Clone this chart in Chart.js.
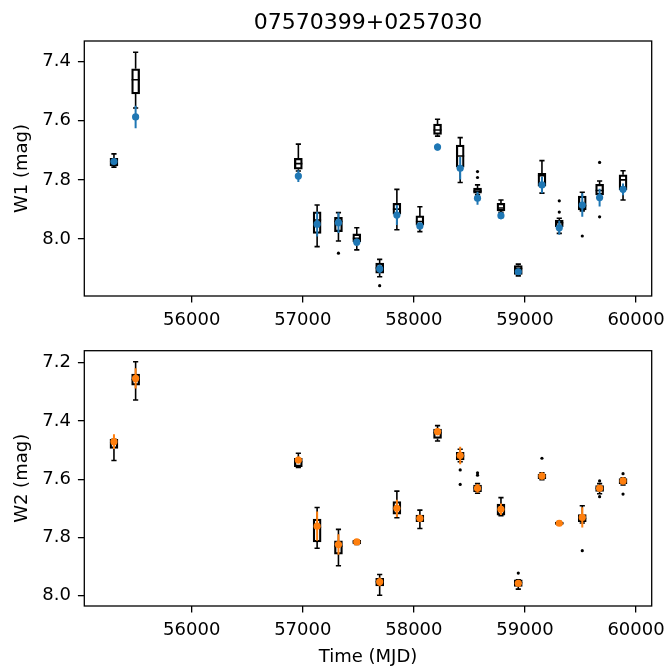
<!DOCTYPE html>
<html>
<head>
<meta charset="utf-8">
<script src="https://cdn.jsdelivr.net/npm/chart.js@4.4.1/dist/chart.umd.min.js"></script>
<style>
  html, body { margin: 0; padding: 0; background: #fff; }
  #wrap { width: 668px; height: 666px; }
  canvas { display: block; }
</style>
</head>
<body>
<div id="wrap">
  <canvas id="w1Chart" width="668" height="333"></canvas>
  <canvas id="w2Chart" width="668" height="333"></canvas>
</div>
<script>
// visit epochs (MJD), shared by both bands
const epochs = [55300, 55495, 56960, 57129, 57321, 57486, 57692, 57847, 58054, 58213,
                58417, 58573, 58784, 58940, 59153, 59309, 59516, 59672, 59883];
const xTicks = [56000, 57000, 58000, 59000, 60000];

// W1 per-epoch box stats (mag): whisker ends, quartiles, median
const w1Lo  = [7.712, 7.368, 7.679, 7.885, 7.911, 7.962, 8.069, 7.832, 7.891, 7.595,
               7.657, 7.817, 7.868, 8.085, 7.735, 7.930, 7.842, 7.804, 7.769];
const w1Q1  = [7.727, 7.424, 7.727, 7.908, 7.927, 7.983, 8.082, 7.879, 7.922, 7.611,
               7.682, 7.828, 7.879, 8.090, 7.778, 7.936, 7.855, 7.815, 7.783];
const w1Med = [7.738, 7.461, 7.745, 7.936, 7.941, 7.998, 8.098, 7.899, 7.941, 7.631,
               7.719, 7.838, 7.895, 8.100, 7.786, 7.945, 7.887, 7.836, 7.800];
const w1Q3  = [7.753, 7.509, 7.764, 7.981, 7.975, 8.009, 8.116, 7.916, 7.953, 7.646,
               7.757, 7.845, 7.905, 8.120, 7.821, 7.958, 7.902, 7.851, 7.834];
const w1Hi  = [7.757, 7.557, 7.770, 8.026, 8.007, 8.037, 8.128, 7.969, 7.975, 7.652,
               7.809, 7.850, 7.910, 8.125, 7.845, 7.981, 7.905, 7.860, 7.868];
// W1 epoch mean and its error
const w1Mean = [7.738, 7.587, 7.787, 7.950, 7.945, 8.011, 8.101, 7.919, 7.956, 7.689,
                7.761, 7.862, 7.921, 8.111, 7.817, 7.962, 7.885, 7.860, 7.832];
const w1Err  = [0.008, 0.038, 0.020, 0.042, 0.035, 0.012, 0.015, 0.034, 0.012, 0.012,
                0.038, 0.022, 0.012, 0.010, 0.028, 0.024, 0.040, 0.030, 0.020];
// W1 outliers: epoch index + mag
const w1OutIdx = [4, 6, 11, 11, 15, 15, 16, 17, 17];
const w1OutMag = [8.048, 8.158, 7.772, 7.792, 7.871, 7.909, 7.990, 7.741, 7.925];

// W2 per-epoch box stats (mag)
const w2Lo  = [7.463, 7.197, 7.511, 7.697, 7.772, 7.808, 7.927, 7.641, 7.706, 7.416,
               7.497, 7.615, 7.663, 7.945, 7.578, 7.745, 7.691, 7.615, 7.595];
const w2Q1  = [7.463, 7.239, 7.528, 7.737, 7.811, 7.810, 7.940, 7.677, 7.723, 7.428,
               7.508, 7.620, 7.685, 7.945, 7.582, 7.747, 7.721, 7.622, 7.598];
const w2Med = [7.475, 7.258, 7.540, 7.765, 7.830, 7.815, 7.952, 7.700, 7.735, 7.440,
               7.520, 7.630, 7.703, 7.955, 7.590, 7.751, 7.735, 7.631, 7.606];
const w2Q3  = [7.494, 7.277, 7.557, 7.815, 7.857, 7.822, 7.966, 7.720, 7.746, 7.460,
               7.534, 7.643, 7.723, 7.968, 7.598, 7.755, 7.746, 7.642, 7.615];
const w2Hi  = [7.536, 7.328, 7.560, 7.837, 7.897, 7.824, 7.998, 7.732, 7.769, 7.469,
               7.540, 7.648, 7.725, 7.977, 7.602, 7.757, 7.750, 7.650, 7.620];
const w2Mean = [7.471, 7.254, 7.534, 7.761, 7.824, 7.815, 7.952, 7.700, 7.734, 7.437,
                7.519, 7.631, 7.703, 7.957, 7.589, 7.751, 7.731, 7.631, 7.606];
const w2Err  = [0.025, 0.035, 0.012, 0.050, 0.035, 0.008, 0.015, 0.030, 0.012, 0.012,
                0.030, 0.015, 0.020, 0.010, 0.012, 0.006, 0.035, 0.012, 0.012];
const w2OutIdx = [10, 10, 11, 11, 13, 14, 16, 17, 17, 18, 18];
const w2OutMag = [7.568, 7.618, 7.578, 7.586, 7.922, 7.528, 7.845, 7.606, 7.660, 7.581, 7.651];

const w1Ticks = [7.4, 7.6, 7.8, 8.0];
const w2Ticks = [7.2, 7.4, 7.6, 7.8, 8.0];

Chart.defaults.font.family = "'DejaVu Sans', sans-serif";
Chart.defaults.color = '#000';

// axes frame on all four sides
const framePlugin = {
  id: 'frame',
  afterDatasetsDraw(chart) {
    const { ctx, chartArea: a } = chart;
    ctx.save();
    ctx.strokeStyle = '#000';
    ctx.lineWidth = 1.3;
    ctx.strokeRect(a.left, a.top, a.right - a.left, a.bottom - a.top);
    ctx.restore();
  }
};

const tickGrid = { display: true, drawOnChartArea: false, drawTicks: true, tickLength: 6.4,
                   color: '#000', lineWidth: 1.3, offset: false };

function xScale(withTitle) {
  return {
    type: 'linear', min: 55033, max: 60141, offset: false, bounds: 'data',
    afterBuildTicks: s => { s.ticks = xTicks.map(v => ({ value: v })); },
    afterFit: s => {
      s.height = withTitle ? 60 : 37;
      // labels fit inside the canvas, no extra side padding needed
      s.paddingLeft = 0;
      s.paddingRight = 0;
    },
    ticks: { font: { size: 18 }, padding: 7, maxRotation: 0, autoSkip: false, callback: v => String(v) },
    grid: tickGrid,
    border: { display: false },
    title: { display: withTitle, text: 'Time (MJD)', font: { size: 18, lineHeight: 1 }, padding: 0 }
  };
}

function yScale(label, min, max, ticks) {
  return {
    type: 'linear', reverse: true, min, max, bounds: 'data',
    afterBuildTicks: s => { s.ticks = ticks.map(v => ({ value: v })); },
    afterFit: s => { s.width = 84.3; s.paddingTop = 0; s.paddingBottom = 0; },
    ticks: { font: { size: 18 }, padding: 7, callback: v => v.toFixed(1) },
    grid: tickGrid,
    border: { display: false },
    title: { display: true, text: label, font: { size: 18, lineHeight: 1 }, padding: { top: 13.5, bottom: 0 } }
  };
}

function bandDatasets(lo, q1, med, q3, hi, mean, err, outIdx, outMag, color) {
  const pts = arr => epochs.map((x, i) => ({ x, y: arr[i] }));
  // pairs of points split by a null so each pair is its own segment
  const segs = (a, b) => epochs.flatMap((x, i) => [{ x, y: a[i] }, { x, y: b[i] }, { x, y: null }]);
  const errLo = mean.map((m, i) => m - err[i]);
  const errHi = mean.map((m, i) => m + err[i]);
  return [
    { type: 'scatter', data: pts(mean), pointRadius: 3.6, pointBackgroundColor: color,
      pointBorderWidth: 0, order: 0 },
    { type: 'line', data: segs(errLo, errHi), borderColor: color, borderWidth: 2,
      pointRadius: 0, spanGaps: false, order: 1 },
    { type: 'scatter', data: outIdx.map((k, i) => ({ x: epochs[k], y: outMag[i] })),
      pointRadius: 1.6, pointBackgroundColor: '#000', pointBorderWidth: 0, order: 2 },
    { type: 'scatter', data: pts(med), pointStyle: 'line', pointRadius: 4,
      borderColor: '#000', pointBorderColor: '#000', pointBorderWidth: 1.6, order: 3 },
    { type: 'scatter', data: pts(lo).concat(pts(hi)), pointStyle: 'line', pointRadius: 2.6,
      borderColor: '#000', pointBorderColor: '#000', pointBorderWidth: 1.6, order: 3 },
    { type: 'line', data: segs(q3, hi).concat(segs(lo, q1)), borderColor: '#000', borderWidth: 1.6,
      pointRadius: 0, spanGaps: false, order: 4 },
    { type: 'bar', data: epochs.map((x, i) => ({ x, y: [q1[i], q3[i]] })), barThickness: 8,
      borderWidth: 1.6, borderColor: '#000', backgroundColor: 'rgba(0,0,0,0)',
      borderSkipped: false, order: 5 }
  ];
}

function makeChart(id, datasets, yOpts, withTitle, padTop) {
  return new Chart(document.getElementById(id), {
    type: 'scatter',
    data: { datasets },
    options: {
      responsive: false,
      animation: false,
      devicePixelRatio: 1,
      layout: { padding: { left: 0, right: 16.3, top: padTop, bottom: 0 } },
      plugins: {
        legend: { display: false },
        tooltip: { enabled: false },
        title: {
          display: !withTitle,
          text: '07570399+0257030',
          fullSize: false,
          font: { size: 22, weight: 'normal', lineHeight: 1 },
          color: '#000',
          padding: { top: 12.5, bottom: 6.5 }
        }
      },
      scales: { x: xScale(withTitle), y: yOpts }
    },
    plugins: [framePlugin]
  });
}

makeChart('w1Chart',
  bandDatasets(w1Lo, w1Q1, w1Med, w1Q3, w1Hi, w1Mean, w1Err, w1OutIdx, w1OutMag, '#1f77b4'),
  yScale('W1 (mag)', 7.330, 8.193, w1Ticks), false, 0);

makeChart('w2Chart',
  bandDatasets(w2Lo, w2Q1, w2Med, w2Q3, w2Hi, w2Mean, w2Err, w2OutIdx, w2OutMag, '#ff7f0e'),
  yScale('W2 (mag)', 7.159, 8.035, w2Ticks), true, 17.7);
</script>
</body>
</html>
